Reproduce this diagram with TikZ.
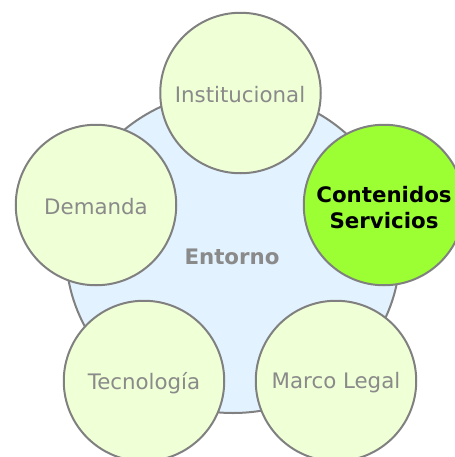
\documentclass[tikz,border=0pt]{standalone}
\usepackage{fontspec}
\setmainfont{DejaVu Sans}
\usetikzlibrary{shapes.geometric}
\definecolor{lgreen}{HTML}{EFFFD6}
\definecolor{bgreen}{HTML}{9CFF33}
\definecolor{lblue}{HTML}{E2F3FF}
\definecolor{edge}{HTML}{808080}
\definecolor{txt}{HTML}{8A8A8A}
\begin{document}
\begin{tikzpicture}[x=0.75pt,y=-0.75pt,
  bubble/.style={circle,draw=edge,line width=1.5pt,fill=lgreen,minimum size=160.5*0.75pt,inner sep=0pt},
  hot/.style={bubble,fill=bgreen},
  btext/.style={font=\fontsize{16}{20}\selectfont,text=txt,align=center,inner sep=0pt},
  htext/.style={font=\fontsize{16}{20}\selectfont\bfseries,text=black,align=center,inner sep=0pt},
  core/.style={ellipse,draw=edge,line width=1.5pt,fill=lblue,minimum width=334*0.75pt,minimum height=322*0.75pt,inner sep=0pt}]
\useasboundingbox (0,0) rectangle (454,457);
\node[core] (entorno) at (233,252) {};
\node[text=txt,font=\fontsize{16}{20}\selectfont\bfseries] (lbl) at (232,256.5) {Entorno};
\node[bubble] (inst) at (240.5,93) {};
\node[btext] (instT) at (240,95) {Institucional};
\node[bubble] (dem) at (96,205) {};
\node[btext] (demT) at (96,207) {Demanda};
\node[hot] (cont) at (384,205) {};
\node[htext] (contT) at (384,207.5) {Contenidos\\Servicios};
\node[bubble] (tec) at (144,381) {};
\node[btext] (tecT) at (144,383) {Tecnología};
\node[bubble] (marco) at (336,381) {};
\node[btext] (marcoT) at (336,383) {Marco Legal};
\end{tikzpicture}
\end{document}
